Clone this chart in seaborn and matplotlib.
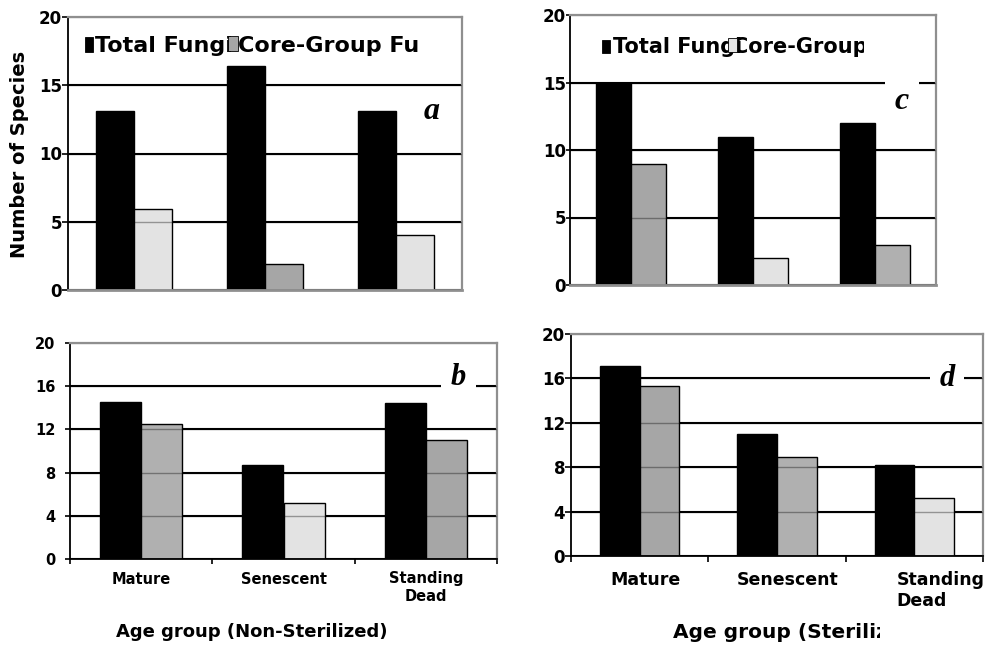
import matplotlib
matplotlib.use("Agg")
import matplotlib.pyplot as plt
import numpy as np
import pandas as pd
import seaborn as sns
from matplotlib.patches import Rectangle
from matplotlib.transforms import Bbox

# ---------------- data ----------------
age_groups = ["Mature", "Senescent", "Standing\nDead"]
series_names = ["Total Fungi", "Core-Group Fungi"]

a_total = [13.1, 16.4, 13.1]
a_core = [5.9, 1.9, 4.0]
c_total = [15, 11, 12]
c_core = [9, 2, 3]
b_total = [14.5, 8.7, 14.4]
b_core = [12.5, 5.2, 11.0]
d_total = [17.1, 11.0, 8.2]
d_core = [15.3, 8.9, 5.2]

# ---------------- style ----------------
plt.rcParams["font.family"] = ["DejaVu Sans"]
plt.rcParams["font.weight"] = "bold"

FILL = {"light": "#e3e3e3", "mid": "#a6a6a6", "check": "#b0b0b0"}
GRAY_SPINE = "#8f8f8f"

W, H = 989, 645
fig = plt.figure(figsize=(W / 100, H / 100), dpi=100)


def axes_px(l, t, r, b):
    return fig.add_axes([l / W, 1 - b / H, (r - l) / W, (b - t) / H])


ax_a = axes_px(68, 17, 462, 290)
ax_c = axes_px(570, 15, 936, 285)
ax_b = axes_px(70, 343, 497, 559)
ax_d = axes_px(571, 334, 983, 556)


def panel(ax, total, core, fills, step, bottom_black, ytick_size, ytick_pad, ytick_len):
    df = pd.DataFrame({
        "age": age_groups * 2,
        "series": [series_names[0]] * len(age_groups) + [series_names[1]] * len(age_groups),
        "count": list(total) + list(core),
    })
    sns.barplot(data=df, x="age", y="count", hue="series", hue_order=series_names,
                palette=["black", FILL["mid"]], width=0.58, saturation=1,
                edgecolor="black", linewidth=1.0, errorbar=None, legend=False, ax=ax)
    for patch, f in zip(ax.containers[1], fills):
        patch.set_facecolor(FILL[f])
    ax.set_xlim(-0.5, 2.5)
    ax.set_ylim(0, 20)
    yt = list(range(0, 21, step))
    ax.set_yticks(yt)
    ax.set_yticklabels([str(v) for v in yt])
    ax.yaxis.grid(True, color="black", lw=1.5)
    ax.set_axisbelow(True)
    for v in yt[1:-1]:
        ax.axhline(v, color="black", alpha=0.35, lw=1.0, zorder=3)
    ax.tick_params(axis="y", length=ytick_len, width=1.2, pad=ytick_pad,
                   labelsize=ytick_size, direction="out")
    ax.spines["left"].set_color("black")
    ax.spines["left"].set_linewidth(1.3)
    for s in ("top", "right"):
        ax.spines[s].set_color(GRAY_SPINE)
        ax.spines[s].set_linewidth(1.6)
    if bottom_black:
        ax.spines["bottom"].set_color("black")
        ax.spines["bottom"].set_linewidth(1.3)
    else:
        ax.spines["bottom"].set_color(GRAY_SPINE)
        ax.spines["bottom"].set_linewidth(2.0)
    ax.set_xlabel("")
    ax.set_ylabel("")


def panel_letter(ax, letter, x, y, size=22):
    ax.text(x, y, letter, transform=ax.transAxes, ha="center", va="center",
            fontfamily="Liberation Serif", style="italic", fontweight="bold",
            fontsize=size, zorder=6,
            bbox=dict(facecolor="white", edgecolor="none", pad=7))


# panel a
panel(ax_a, a_total, a_core, ["light", "mid", "light"], 5, False, 12, 0, 4.3)
ax_a.tick_params(axis="x", which="both", length=0, labelbottom=False)
ax_a.set_ylabel("Number of Species", fontsize=14, fontweight="bold", va="center")
ax_a.yaxis.set_label_coords((20 - 68) / 394, (290 - 154) / 273)
panel_letter(ax_a, "a", 0.924, 0.655, size=23)

# panel c
panel(ax_c, c_total, c_core, ["mid", "light", "check"], 5, False, 12, 0, 3.0)
ax_c.tick_params(axis="x", which="both", length=0, labelbottom=False)
panel_letter(ax_c, "c", 0.907, 0.68, size=23)

# panel b
panel(ax_b, b_total, b_core, ["check", "light", "mid"], 4, True, 10.5, 7, 3.6)
ax_b.set_xticks([0, 1, 2])
ax_b.set_xticklabels(age_groups)
ax_b.set_xticks([-0.5, 0.5, 1.5, 2.5], minor=True)
ax_b.tick_params(axis="x", which="major", length=0, pad=9, labelsize=10.5)
ax_b.tick_params(axis="x", which="minor", length=3.6, width=1.2, direction="out")
ax_b.set_xlabel("Age group (Non-Sterilized)", fontsize=13, fontweight="bold", va="center")
ax_b.xaxis.set_label_coords((251.5 - 70) / 427, (559 - 632) / 216)
panel_letter(ax_b, "b", 0.909, 0.838)

# panel d
panel(ax_d, d_total, d_core, ["mid", "check", "light"], 4, True, 12, 0, 4.3)
label_shift = [0.044, 0.08, 0.19]
ax_d.set_xticks([i + s for i, s in zip(range(len(age_groups)), label_shift)])
ax_d.set_xticklabels(age_groups)
ax_d.get_xticklabels()[2].set_multialignment("left")
ax_d.set_xticks([-0.5, 0.5, 1.5, 2.5], minor=True)
ax_d.tick_params(axis="x", which="major", length=0, pad=11, labelsize=12.5)
ax_d.tick_params(axis="x", which="minor", length=4.3, width=1.2, direction="out")
ax_d.set_xlabel("Age group (Sterilized)", fontsize=14.5, fontweight="bold",
                ha="left", va="center")
ax_d.xaxis.set_label_coords((673 - 571) / 412, (556 - 633) / 222)
ax_d.xaxis.label.set_clip_box(Bbox.from_extents(0, 0, 880, H))
ax_d.xaxis.label.set_clip_on(True)
panel_letter(ax_d, "d", 0.9126, 0.80)


# ---------------- legends (overlapping, clipped as in the original) ----------------
def legend_px(squares, texts, clip_right, size):
    for (x0, y0, x1, y1, col) in squares:
        r = Rectangle((x0 / W, 1 - y1 / H), (x1 - x0) / W, (y1 - y0) / H,
                      transform=fig.transFigure, facecolor=col, edgecolor="black",
                      linewidth=0.6, zorder=5)
        fig.add_artist(r)
    for (x, y, s) in texts:
        t = fig.text(x / W, 1 - y / H, s, ha="left", va="baseline", fontsize=size,
                     fontweight="bold", zorder=4)
        t.set_clip_box(Bbox.from_extents(0, 0, clip_right, H))
        t.set_clip_on(True)


legend_px([(85, 37, 93, 52, "black"), (228, 36, 238, 51, FILL["mid"])],
          [(95, 51.7, series_names[0]), (238, 51.7, series_names[1])], 420, 16)
legend_px([(602, 40, 610, 53, "black"), (728, 38, 737, 52, FILL["light"])],
          [(613, 53.3, series_names[0]), (733, 53.3, series_names[1])], 864, 15)

fig.savefig("out.png", dpi=100)
